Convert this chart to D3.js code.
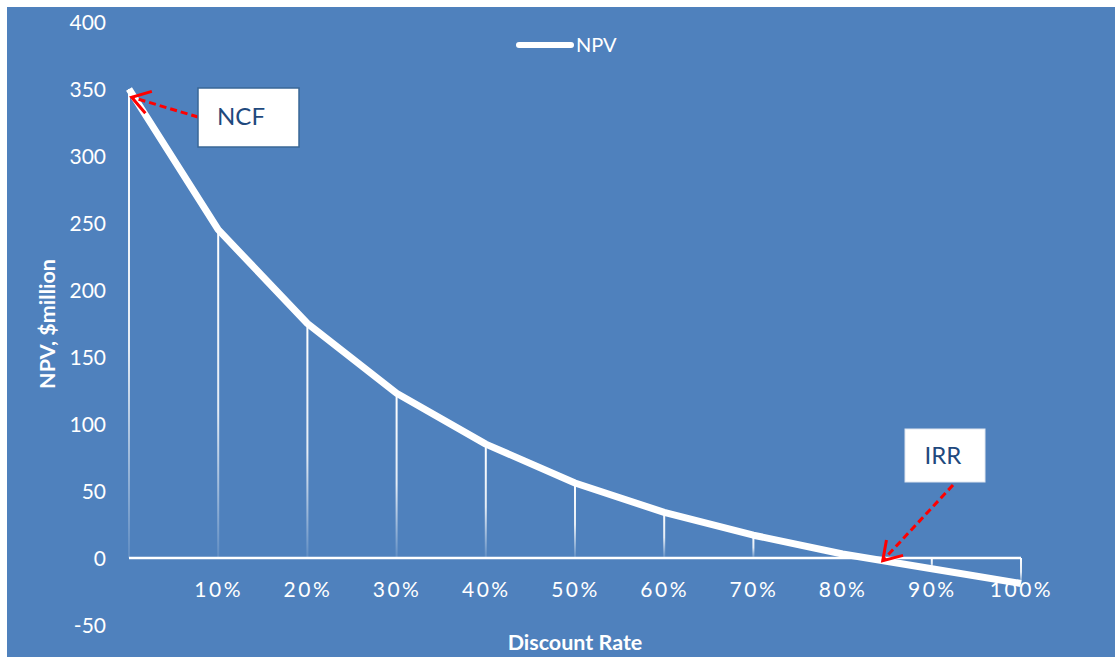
<!DOCTYPE html>
<html>
<head>
<meta charset="utf-8">
<script src="https://cdn.jsdelivr.net/npm/d3@7/dist/d3.min.js"></script>
<style>
  html, body { margin: 0; padding: 0; background: #ffffff; }
  svg { display: block; }
  text { font-family: Lato, "Open Sans", sans-serif; }
</style>
</head>
<body>
<svg id="chart" width="1115" height="657"></svg>
<script>
// ---- data ----
const categories = ["0%", "10%", "20%", "30%", "40%", "50%", "60%", "70%", "80%", "90%", "100%"];
const xTickLabels = ["", "10%", "20%", "30%", "40%", "50%", "60%", "70%", "80%", "90%", "100%"];
const npvValues = [350, 245, 175, 123, 85, 56, 34, 17, 3, -8, -19];
const yTicks = [-50, 0, 50, 100, 150, 200, 250, 300, 350, 400];
const seriesName = "NPV";
const yTitle = "NPV, $million";
const xTitle = "Discount Rate";
const annotations = [
  { label: "NCF", index: 0.03 },
  { label: "IRR", index: 8.45 }
];

// ---- layout ----
const W = 1115, H = 657;
const svg = d3.select("#chart");
const bg = "#4F81BD";

svg.append("rect").attr("x", 7).attr("y", 7).attr("width", W - 7).attr("height", H - 7).attr("fill", bg);

const x = d3.scalePoint().domain(categories).range([129, 1021]);
const y = d3.scaleLinear().domain([-50, 400]).range([625, 22]);

const defs = svg.append("defs");
const grad = defs.append("linearGradient").attr("id", "dropGrad")
  .attr("x1", 0).attr("y1", 0).attr("x2", 0).attr("y2", 1);
grad.append("stop").attr("offset", "0%").attr("stop-color", "#ffffff").attr("stop-opacity", 1);
grad.append("stop").attr("offset", "55%").attr("stop-color", "#ffffff").attr("stop-opacity", 0.85);
grad.append("stop").attr("offset", "100%").attr("stop-color", "#ffffff").attr("stop-opacity", 0.1);

// y axis labels
const yAxis = d3.axisLeft(y).tickValues(yTicks).tickSize(0).tickPadding(0).tickFormat(d => String(d));
const yG = svg.append("g").attr("transform", "translate(106,0)").call(yAxis);
yG.select(".domain").remove();
yG.selectAll("text").attr("fill", "#ffffff").attr("font-size", 21)
  .attr("font-family", "Lato, sans-serif").attr("dy", "0.35em");

// drop lines
const data = categories.map((c, i) => ({ c, v: npvValues[i] }));
svg.append("g").selectAll("rect").data(data).join("rect")
  .attr("x", d => x(d.c) - 1)
  .attr("y", d => Math.min(y(d.v), y(0)))
  .attr("width", 2)
  .attr("height", d => Math.abs(y(0) - y(d.v)))
  .attr("fill", "url(#dropGrad)");

// x axis line
const xAxis = d3.axisBottom(x).tickSize(0).tickPadding(0).tickFormat((d, i) => xTickLabels[i]);
const xG = svg.append("g").attr("transform", `translate(0,${y(0)})`).call(xAxis);
xG.select(".domain").attr("stroke", "#ffffff").attr("stroke-width", 2.5)
  .attr("d", `M${x(categories[0])},0H${x(categories[categories.length - 1])}`);
xG.selectAll("text").attr("fill", "#ffffff").attr("font-size", 21)
  .attr("font-family", "Lato, sans-serif").attr("letter-spacing", "2.5px")
  .attr("y", 32).attr("dy", "0.35em");

// line
const line = d3.line().x(d => x(d.c)).y(d => y(d.v));
svg.append("path").datum(data).attr("d", line)
  .attr("fill", "none").attr("stroke", "#ffffff").attr("stroke-width", 7)
  .attr("stroke-linejoin", "round");

// legend
svg.append("line").attr("x1", 519).attr("x2", 571).attr("y1", 45).attr("y2", 45)
  .attr("stroke", "#ffffff").attr("stroke-width", 6).attr("stroke-linecap", "round");
svg.append("text").attr("x", 576).attr("y", 45).attr("dy", "0.35em")
  .attr("fill", "#ffffff").attr("font-size", 20).text(seriesName);

// axis titles
svg.append("text").attr("transform", "translate(47,324) rotate(-90)")
  .attr("text-anchor", "middle").attr("dy", "0.35em")
  .attr("fill", "#ffffff").attr("font-size", 21.5).attr("font-weight", "bold").text(yTitle);
svg.append("text").attr("x", 575).attr("y", 642).attr("text-anchor", "middle").attr("dy", "0.35em")
  .attr("fill", "#ffffff").attr("font-size", 21.5).attr("font-weight", "bold").text(xTitle);

// annotations
function interp(idx) {
  const i0 = Math.floor(idx), i1 = Math.min(i0 + 1, categories.length - 1), t = idx - i0;
  const px = x(categories[i0]) + (x(categories[i1]) - x(categories[i0])) * t;
  const pv = npvValues[i0] + (npvValues[i1] - npvValues[i0]) * t;
  return [px, y(pv)];
}
function arrow(x1, y1, x2, y2) {
  const g = svg.append("g");
  g.append("line").attr("x1", x1).attr("y1", y1).attr("x2", x2).attr("y2", y2)
    .attr("stroke", "#FF0000").attr("stroke-width", 3).attr("stroke-dasharray", "7,4");
  const ang = Math.atan2(y1 - y2, x1 - x2);
  const L = 21, spread = Math.PI / 5.5;
  const p = [ang - spread, ang + spread].map(a => [x2 + L * Math.cos(a), y2 + L * Math.sin(a)]);
  g.append("path").attr("d", `M${p[0][0]},${p[0][1]}L${x2},${y2}L${p[1][0]},${p[1][1]}`)
    .attr("fill", "none").attr("stroke", "#FF0000").attr("stroke-width", 3)
    .attr("stroke-linejoin", "miter");
}
// NCF
{
  const [px, py] = interp(annotations[0].index);
  arrow(198, 117, px, py + 4);
  svg.append("rect").attr("x", 198).attr("y", 88).attr("width", 101).attr("height", 59)
    .attr("fill", "#ffffff").attr("stroke", "#3A6796").attr("stroke-width", 1.5);
  svg.append("text").attr("x", 241).attr("y", 117).attr("text-anchor", "middle").attr("dy", "0.35em")
    .attr("fill", "#1F497D").attr("font-size", 24).text(annotations[0].label);
}
// IRR
{
  const [px, py] = interp(annotations[1].index);
  arrow(953, 485, px, py);
  svg.append("rect").attr("x", 905).attr("y", 429).attr("width", 80).attr("height", 53)
    .attr("fill", "#ffffff").attr("stroke", "#dfe6f0").attr("stroke-width", 1);
  svg.append("text").attr("x", 943).attr("y", 456).attr("text-anchor", "middle").attr("dy", "0.35em")
    .attr("fill", "#1F497D").attr("font-size", 24).text(annotations[1].label);
}
</script>
</body>
</html>
